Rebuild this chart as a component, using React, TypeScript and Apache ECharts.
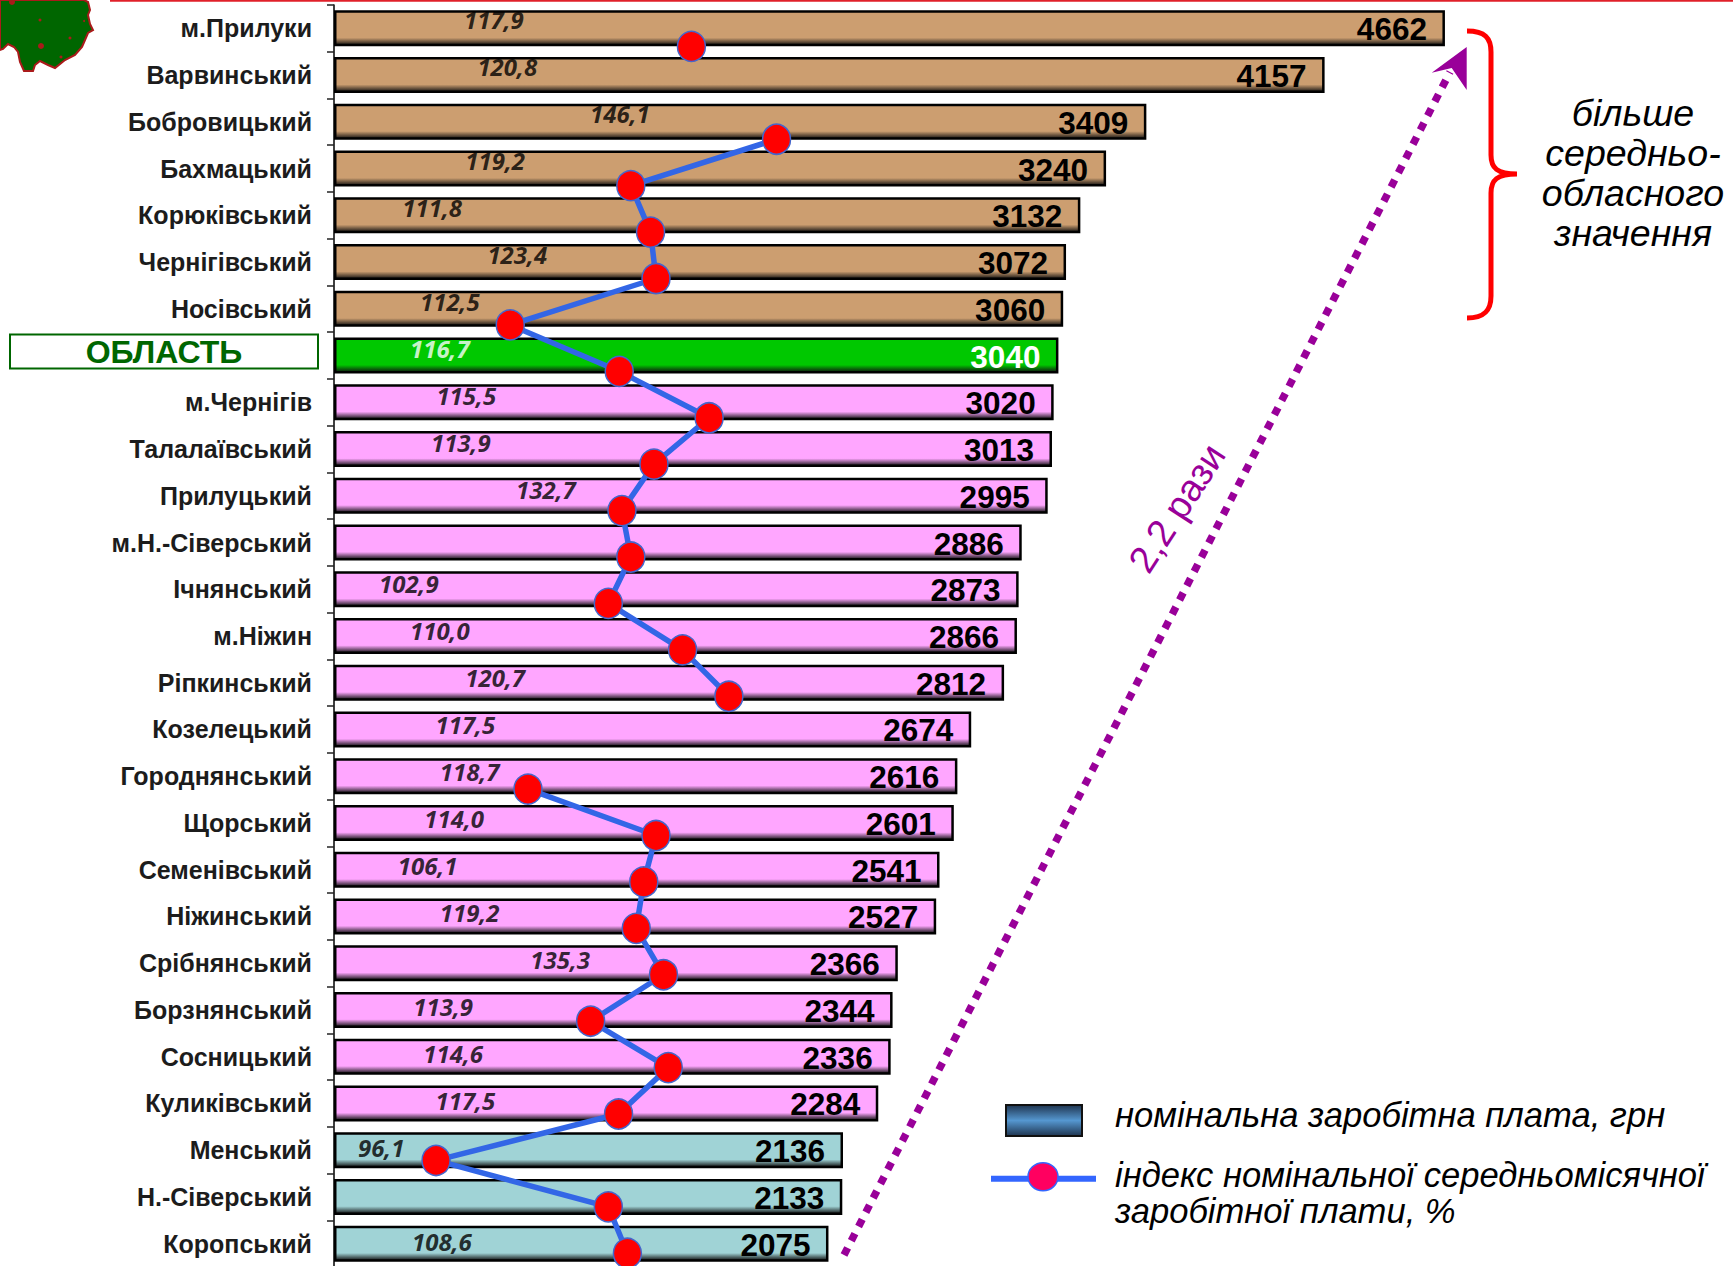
import React, { useEffect, useRef } from "react";
import * as echarts from "echarts";

const districts = ["м.Прилуки","Варвинський","Бобровицький","Бахмацький","Корюківський","Чернігівський","Носівський","ОБЛАСТЬ","м.Чернігів","Талалаївський","Прилуцький","м.Н.-Сіверський","Ічнянський","м.Ніжин","Ріпкинський","Козелецький","Городнянський","Щорський","Семенівський","Ніжинський","Срібнянський","Борзнянський","Сосницький","Куликівський","Менський","Н.-Сіверський","Коропський"];
const wages = [4662,4157,3409,3240,3132,3072,3060,3040,3020,3013,2995,2886,2873,2866,2812,2674,2616,2601,2541,2527,2366,2344,2336,2284,2136,2133,2075];
// Printed index values (null where the picture prints none)
const indexPrinted = [117.9,120.8,146.1,119.2,111.8,123.4,112.5,116.7,115.5,113.9,132.7,null,102.9,110.0,120.7,117.5,118.7,114.0,106.1,119.2,135.3,113.9,114.6,117.5,96.1,null,108.6];
// Marker positions as they are drawn in the picture, read on the index scale (null = no marker)
const indexMarkers = [133.6,null,146.1,124.7,127.6,128.4,107.0,123.0,136.2,128.1,123.4,124.7,121.4,132.3,139.1,null,109.6,128.4,126.6,125.5,129.5,118.8,130.2,122.9,96.1,121.4,124.2];
// Where each printed label sits along the wage axis
const printedLabelAnchor = [671,727,1200,676,412,769,486,444,555,532,889,null,314,444,676,551,569,504,393,569,949,458,500,551,198,null,453];

const REGION = "ОБЛАСТЬ";
const regionWage = 3040;
const LOW_LIMIT = 2200;

const barPalette = (v: number) => {
  const base = v > regionWage ? "#CC9E70" : v === regionWage ? "#00C800" : v >= LOW_LIMIT ? "#FFA6FF" : "#A0D3D6";
  return new echarts.graphic.LinearGradient(0, 0, 0, 1, [
    { offset: 0, color: base },
    { offset: 0.78, color: base },
    { offset: 1, color: "#111111" },
  ]);
};

const bracePath = "M1467 31 C1485 31 1491 38 1491 52 L1491 155 C1491 168 1497 174 1517 174 C1497 174 1491 180 1491 193 L1491 296 C1491 310 1485 318 1467 318";
const mapPath = "M0 0 L84 0 L88 2 L90 10 L88 15 L90 24 L93 30 L88 33 L85 40 L82 47 L75 55 L65 60 L55 68 L48 65 L40 61 L35 65 L33 71 L24 71 L20 62 L18 52 L14 47 L8 44 L3 49 L0 50 Z";
const mapDots = [[12, 2, 3], [41, 46, 3], [40, 20, 1.5], [70, 38, 1.5], [61, 57, 1.5], [84, 21, 1]];

export default function App() {
  const ref = useRef<HTMLDivElement>(null);
  useEffect(() => {
    if (!ref.current) return;
    const Brace = echarts.graphic.extendPath(bracePath, {});
    const MapShape = echarts.graphic.extendPath(mapPath, {});
    echarts.graphic.registerShape("brace", Brace as any);
    echarts.graphic.registerShape("regionmap", MapShape as any);

    const chart = echarts.init(ref.current, undefined, { renderer: "svg" });
    const wageMax = 5870;
    chart.setOption({
      animation: false,
      backgroundColor: "#ffffff",
      grid: [
        { left: 334, top: 5, width: 1398.8, height: 1262 },
        { left: 326.4, top: 23.2, width: 817.2, height: 1253.3 },
        { left: 334, top: 0, width: 1398.8, height: 1269 },
      ],
      xAxis: [
        { gridIndex: 0, type: "value", min: 0, max: wageMax, show: false },
        { gridIndex: 1, type: "value", min: 80, max: 200, show: false },
        { gridIndex: 2, type: "value", min: 0, max: wageMax, show: false },
      ],
      yAxis: [
        {
          gridIndex: 0, type: "category", inverse: true, data: districts,
          axisLine: { show: true, lineStyle: { color: "#000000", width: 1.5 } },
          axisTick: { show: true, length: 7, lineStyle: { color: "#222222", width: 1.5 } },
          axisLabel: {
            margin: 16, interval: 0,
            formatter: (v: string) => (v === REGION ? `{area|${v}}\n{gap|}` : `{name|${v}}`),
            rich: {
              name: { fontFamily: "Liberation Sans", fontWeight: "bold", fontSize: 25, color: "#1c1c1c", padding: [0, 6, 0, 0] },
              area: { fontFamily: "Liberation Sans", fontWeight: "bold", fontSize: 32, color: "#006600", width: 308, height: 34, align: "center", borderColor: "#006600", borderWidth: 2 },
              gap: { width: 1, height: 8 },
            },
          },
        },
        { gridIndex: 1, type: "category", inverse: true, data: districts, show: false },
        { gridIndex: 2, type: "category", inverse: true, data: districts, show: false },
      ],
      series: [
        {
          type: "bar", xAxisIndex: 0, yAxisIndex: 0, barWidth: 36, z: 2,
          data: wages.map((v) => ({
            value: v,
            itemStyle: { color: barPalette(v), borderColor: "#000000", borderWidth: 2.5 },
            label: { color: v === regionWage ? "#ffffff" : "#000000" },
          })),
          label: {
            show: true, position: "insideRight", distance: 18, offset: [0, 1],
            fontFamily: "Liberation Sans", fontWeight: "bold", fontSize: 31.5,
          },
        },
        {
          type: "line", xAxisIndex: 1, yAxisIndex: 1, z: 4, connectNulls: false,
          data: indexMarkers.map((v, i) => [v === null ? "-" : v, districts[i]]),
          symbol: "circle", symbolSize: [28, 30], showSymbol: true,
          lineStyle: { color: "#3366E6", width: 5.5 },
          itemStyle: { color: "#FF0000", borderColor: "#4466CC", borderWidth: 1.5 },
        },
        {
          type: "scatter", xAxisIndex: 2, yAxisIndex: 2, z: 5, symbolSize: 1,
          itemStyle: { color: "transparent" },
          data: indexPrinted.map((v, i) => ({
            value: [printedLabelAnchor[i] === null ? "-" : printedLabelAnchor[i], districts[i]],
            label: {
              show: v !== null,
              position: "inside",
              offset: [0, -4],
              formatter: v === null ? "" : v.toFixed(1).replace(".", ","),
              fontFamily: "Open Sans", fontStyle: "italic", fontWeight: "bold", fontSize: 24,
              color: districts[i] === REGION ? "#ffffff" : "#000000",
            },
          })),
        },
      ],
      graphic: [
        { type: "line", z: 10, shape: { x1: 110, y1: 0.8, x2: 1733, y2: 0.8 }, style: { stroke: "#E0202A", lineWidth: 2 } },
        { type: "regionmap", z: 10, style: { fill: "#006600", stroke: "#AA1A1A", lineWidth: 2 } },
        ...mapDots.map(([cx, cy, r]) => ({ type: "circle", z: 11, shape: { cx, cy, r }, style: { fill: "#AA1A1A" } })),
        { type: "brace", z: 10, style: { fill: "none", stroke: "#FF0000", lineWidth: 5 } },
        {
          type: "text", z: 10, x: 1633, y: 93,
          style: { text: "більше\nсередньо-\nобласного\nзначення", fontFamily: "Liberation Sans", fontStyle: "italic", fontSize: 37.5, lineHeight: 40, fill: "#000000", align: "center" },
        },
        { type: "line", z: 9, shape: { x1: 844, y1: 1255, x2: 1450, y2: 72 }, style: { stroke: "#990099", lineWidth: 7.5, lineDash: [8, 8] } },
        { type: "polygon", z: 10, shape: { points: [[1466.7, 47], [1431.7, 72.7], [1451.7, 68], [1466.7, 90]] }, style: { fill: "#990099" } },
        {
          type: "text", z: 10, x: 1177, y: 508, rotation: (57 * Math.PI) / 180, originX: 0, originY: 0,
          style: { text: "2,2 рази", fontFamily: "Liberation Sans", fontSize: 38, fill: "#990099", align: "center", verticalAlign: "middle" },
        },
        {
          type: "rect", z: 10, shape: { x: 1006, y: 1105, width: 76, height: 31 },
          style: {
            stroke: "#111111", lineWidth: 2,
            fill: new echarts.graphic.LinearGradient(0, 0, 0, 1, [
              { offset: 0, color: "#1F3550" }, { offset: 0.5, color: "#5597D0" }, { offset: 1, color: "#1F3550" },
            ]),
          },
        },
        { type: "text", z: 10, x: 1115, y: 1115, style: { text: "номінальна заробітна плата, грн", fontFamily: "Liberation Sans", fontStyle: "italic", fontSize: 34.6, fill: "#000000", verticalAlign: "middle" } },
        { type: "line", z: 10, shape: { x1: 991, y1: 1178.7, x2: 1096, y2: 1178.7 }, style: { stroke: "#3366FF", lineWidth: 6 } },
        { type: "ellipse", z: 11, shape: { cx: 1043, cy: 1176.7, rx: 15, ry: 14 }, style: { fill: "#FF0060", stroke: "#3366FF", lineWidth: 1.5 } },
        { type: "text", z: 10, x: 1115, y: 1175, style: { text: "індекс номінальної середньомісячної", fontFamily: "Liberation Sans", fontStyle: "italic", fontSize: 34.6, fill: "#000000", verticalAlign: "middle" } },
        { type: "text", z: 10, x: 1115, y: 1211, style: { text: "заробітної плати, %", fontFamily: "Liberation Sans", fontStyle: "italic", fontSize: 34.6, fill: "#000000", verticalAlign: "middle" } },
      ],
    });
    return () => chart.dispose();
  }, []);
  return (
    <div style={{ position: "absolute", left: 0, top: 0, width: 1733, height: 1266, overflow: "hidden" }}>
      <div ref={ref} style={{ width: 1733, height: 1300 }} />
    </div>
  );
}
